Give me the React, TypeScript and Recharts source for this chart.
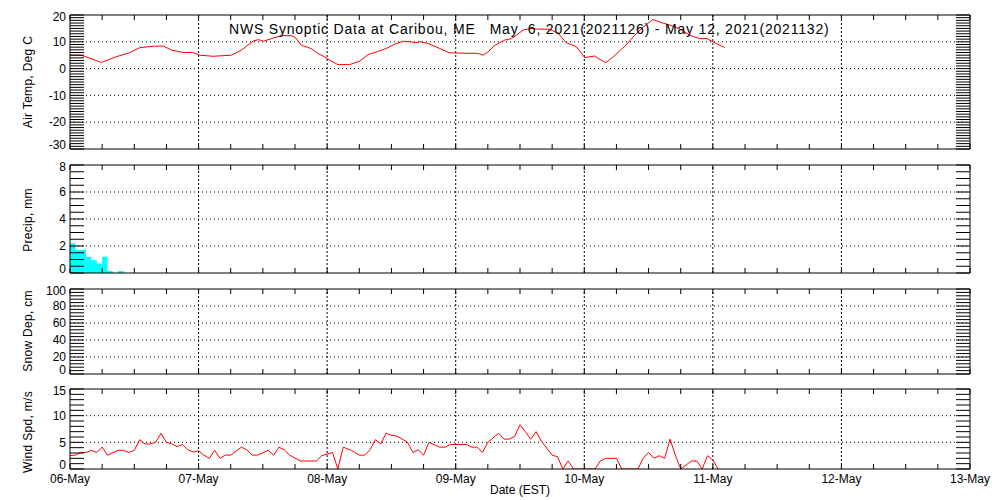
import React from 'react';
import { LineChart, AreaChart, Line, Area, XAxis, YAxis, ReferenceLine } from 'recharts';

const FONT = '"Liberation Sans", Arial, Helvetica, sans-serif';

// ---------- x axis (hours since 06-May 00:00 EST) ----------
const dayLabels = ['06-May', '07-May', '08-May', '09-May', '10-May', '11-May', '12-May', '13-May'];
const hoursPerDay = 24;
const minorHourStep = 6;
const totalHours = 168;

// ---------- Air temperature (deg C) ----------
const tempHours = [0, 2.1, 5.9, 8.6, 11.1, 13, 15.8, 17.4, 19, 21.1, 23, 24.2, 26.7, 30.1, 32, 34.2, 35.2, 36.1, 37.6, 39.5, 41.3, 42, 43.2, 45, 46.3, 47.5, 48.5, 50, 52.2, 54.1, 55.6, 57.2, 59, 60.6, 62.2, 63.7, 64.4, 65.3, 66.8, 68.7, 70.8, 74.3, 76.1, 77.1, 78, 79.3, 81.1, 82.4, 83.3, 84.6, 86.1, 87.7, 89.5, 91.1, 92.6, 94.5, 96.1, 97.9, 98.6, 100, 101.4, 103.5, 105.4, 107, 108.8, 110.7, 112.2, 114.1, 115.7, 117.5, 118.9, 120.3, 122.2];
const tempValues = [5.0, 5.0, 2.3, 4.4, 5.9, 7.8, 8.4, 8.4, 6.9, 6.0, 6.0, 5.0, 4.6, 5.0, 6.9, 10.3, 10.8, 10.2, 11.2, 12.3, 12.3, 11.7, 8.7, 7.5, 5.6, 4.4, 3.1, 1.5, 1.5, 2.8, 5.2, 6.2, 7.5, 9.1, 10.2, 10.0, 9.6, 10.0, 9.4, 7.8, 5.9, 5.7, 5.7, 5.0, 6.2, 8.7, 10.6, 11.2, 12.4, 14.4, 15.0, 14.7, 14.7, 13.2, 9.7, 8.2, 4.1, 4.7, 3.8, 2.2, 4.4, 8.2, 12.4, 15.5, 18.3, 17.0, 16.1, 14.5, 12.4, 11.2, 11.2, 9.7, 7.9];

// ---------- Precipitation (mm, hourly) ----------
const precipHours = [0, 1, 2, 3, 4, 5, 6, 7, 8, 9, 10];
const precipValues = [2.2, 1.7, 1.7, 1.2, 0.95, 0.7, 1.2, 0.15, 0, 0.15, 0];

// ---------- Wind speed (m/s) ----------
const windHours = [0, 1, 2, 3, 4, 5, 6, 7, 9, 10, 11, 12, 13, 14, 15, 16, 17, 18, 19, 20, 21, 22, 23, 24, 25, 26, 27, 28, 29, 30, 32, 33, 34, 35, 37, 38, 39, 40, 41, 43, 46, 47, 49, 50, 51, 52.5, 54, 55, 56, 57, 58, 59, 60, 61, 63, 64, 65, 66, 67, 69, 70, 71, 74, 75, 76, 77, 78, 80, 81, 82, 83, 84, 85, 86, 87, 88, 90, 91, 92, 93, 94, 98, 99, 100, 102, 103, 106, 107, 108, 109, 110, 111, 112, 113, 114, 116, 117, 118, 119, 120, 121];
const windValues = [2.5, 2.6, 3.1, 3.1, 3.5, 3.1, 4.1, 2.6, 3.5, 3.5, 3.1, 3.5, 5.5, 4.7, 4.7, 5.0, 6.7, 5.0, 4.7, 4.2, 4.6, 3.6, 3.2, 3.4, 2.6, 2.0, 3.5, 2.0, 2.6, 2.6, 4.1, 3.6, 2.6, 2.6, 3.5, 2.6, 4.1, 3.6, 2.6, 1.5, 1.5, 2.5, 3.1, 0, 4.1, 3.5, 2.6, 2.6, 3.6, 5.5, 4.7, 6.7, 6.3, 6.2, 5.0, 3.1, 3.6, 2.6, 5.0, 4.1, 4.1, 4.6, 4.6, 4.1, 4.1, 3.1, 5.0, 6.7, 5.6, 5.6, 6.1, 8.3, 7.0, 5.6, 7.0, 5.2, 2.6, 2.3, 0, 1.5, 0, 0, 1.5, 2.0, 2.0, 0, 0, 2.0, 3.1, 2.0, 2.5, 2.0, 5.6, 2.6, 0, 1.5, 1.5, 0, 2.5, 1.7, 0];

// ---------- y axis tick labels ----------
const tempMajor = [-30, -20, -10, 0, 10, 20];
const tempMinorStep = 1;
const precipMajor = [0, 2, 4, 6, 8];
const precipMinorStep = 0.5;
const snowMajor = [0, 20, 40, 60, 80, 100];
const snowMinorStep = 4;
const windMajor = [0, 5, 10, 15];
const windMinorStep = 1;

const titleText = 'NWS Synoptic Data at Caribou, ME   May  6, 2021(2021126) - May 12, 2021(2021132)';
const xTitle = 'Date (EST)';
const yTitles = ['Air Temp, Deg C', 'Precip, mm', 'Snow Dep, cm', 'Wind Spd, m/s'];

const toRows = (xs: number[], ys: number[]) => xs.map((t, i) => ({ t, v: ys[i] }));
const tempData = toRows(tempHours, tempValues);
const precipData = toRows(precipHours, precipValues);
const windData = toRows(windHours, windValues);

const buildTicks = (major: number[], step: number) => {
  const lo = major[0];
  const hi = major[major.length - 1];
  const n = Math.round((hi - lo) / step);
  const out: number[] = [];
  for (let i = 0; i <= n; i++) out.push(+(lo + i * step).toFixed(4));
  return out;
};

const xTicks = buildTicks([0, totalHours], minorHourStep);
const dayLines = dayLabels.map((_, i) => i * hoursPerDay).slice(1, -1);

const W = 1000;
const H = 500;
const LEFT = 70;
const RIGHT = 30;
const panels = [
  { top: 15, bottom: 149 },
  { top: 165, bottom: 273 },
  { top: 289, bottom: 374 },
  { top: 389, bottom: 469 },
];

const blank = () => '';
const tickStyle = { fill: '#000', fontSize: 12, fontFamily: FONT };
const black = { stroke: '#000', strokeWidth: 1 };

function frame(major: number[], step: number, withDates: boolean) {
  const yTicks = buildTicks(major, step);
  const lo = major[0];
  const hi = major[major.length - 1];
  const domain = [lo, hi];
  const majorSet = new Set(major);
  const grid = major.slice(1, -1);
  const dateFmt = (v: number) => (v % hoursPerDay === 0 ? dayLabels[v / hoursPerDay] : '');
  // left labels: end-points are nudged inside the axis range, as in the reference
  const yTick = (p: any) => {
    const v = p.payload.value;
    if (!majorSet.has(v)) return <g />;
    const shift = v === lo ? -4 : v === hi ? 1.5 : 0;
    return (
      <text x={p.x} y={p.y + shift} dy="0.355em" textAnchor="end" fill="#000" fontSize={12} fontFamily={FONT}>
        {String(v)}
      </text>
    );
  };
  return [
    <XAxis key="xb" dataKey="t" type="number" domain={[0, totalHours]} ticks={xTicks} interval={0}
      allowDataOverflow height={1} tickSize={-5} tickMargin={withDates ? 10 : 0}
      tickFormatter={withDates ? dateFmt : blank} axisLine={black} tickLine={black} tick={tickStyle} />,
    <XAxis key="xt" xAxisId="top" orientation="top" dataKey="t" type="number" domain={[0, totalHours]}
      ticks={xTicks} interval={0} allowDataOverflow height={1} tickSize={-5} tickMargin={0}
      tickFormatter={blank} axisLine={black} tickLine={black} tick={tickStyle} />,
    <YAxis key="yl" type="number" domain={domain} ticks={yTicks} interval={0} allowDataOverflow width={1}
      tickSize={-14} tickMargin={18} axisLine={black} tickLine={black} tick={yTick} />,
    <YAxis key="yr" yAxisId="right" orientation="right" type="number" domain={domain} ticks={yTicks}
      interval={0} allowDataOverflow width={1} tickSize={-14} tickMargin={0} tickFormatter={blank}
      axisLine={black} tickLine={black} tick={tickStyle} />,
    ...grid.map((g) => (
      <ReferenceLine key={'h' + g} y={g} stroke="#000" strokeWidth={1} strokeDasharray="1 3" />
    )),
    ...dayLines.map((d) => (
      <ReferenceLine key={'v' + d} x={d} stroke="#000" strokeWidth={1} strokeDasharray="2 2" />
    )),
  ];
}

// axes take 1px each, so margins are reduced by 1 to keep the plot box in place
const margin = (i: number) => ({
  top: panels[i].top - 1,
  bottom: H - panels[i].bottom - 1,
  left: LEFT - 1,
  right: RIGHT - 1,
});
const abs: React.CSSProperties = { position: 'absolute', left: 0, top: 0 };

export default function App() {
  return (
    <div style={{ position: 'absolute', left: 0, top: 0, width: W, height: H, background: '#fff', fontFamily: FONT }}>
      <div style={abs}>
        <LineChart width={W} height={H} data={tempData} margin={margin(0)}>
          {frame(tempMajor, tempMinorStep, false)}
          <Line dataKey="v" type="linear" stroke="#FF0000" strokeWidth={1} dot={false} isAnimationActive={false} />
        </LineChart>
      </div>
      <div style={abs}>
        <AreaChart width={W} height={H} data={precipData} margin={margin(1)}>
          {frame(precipMajor, precipMinorStep, false)}
          <Area dataKey="v" type="stepAfter" stroke="none" fill="#00FFFF" fillOpacity={1} isAnimationActive={false} />
        </AreaChart>
      </div>
      <div style={abs}>
        <LineChart width={W} height={H} data={[]} margin={margin(2)}>
          {frame(snowMajor, snowMinorStep, false)}
        </LineChart>
      </div>
      <div style={abs}>
        <LineChart width={W} height={H} data={windData} margin={margin(3)}>
          {frame(windMajor, windMinorStep, true)}
          <Line dataKey="v" type="linear" stroke="#FF0000" strokeWidth={1} dot={false} isAnimationActive={false} />
        </LineChart>
      </div>
      <div style={{ position: 'absolute', left: 229, top: 21, fontSize: 14, letterSpacing: 0.8, whiteSpace: 'pre', color: '#000', lineHeight: '16px' }}>
        {titleText}
      </div>
      <div style={{ position: 'absolute', left: 490, top: 483, fontSize: 12, whiteSpace: 'pre', color: '#000', lineHeight: '14px' }}>
        {xTitle}
      </div>
      {yTitles.map((t, i) => (
        <div key={t} style={{
          position: 'absolute', left: 28, top: [82, 220, 331, 432][i], fontSize: 12, letterSpacing: 0.3, whiteSpace: 'nowrap',
          transform: 'translate(-50%, -50%) rotate(-90deg)', color: '#000', lineHeight: '14px',
        }}>
          {t}
        </div>
      ))}
    </div>
  );
}
